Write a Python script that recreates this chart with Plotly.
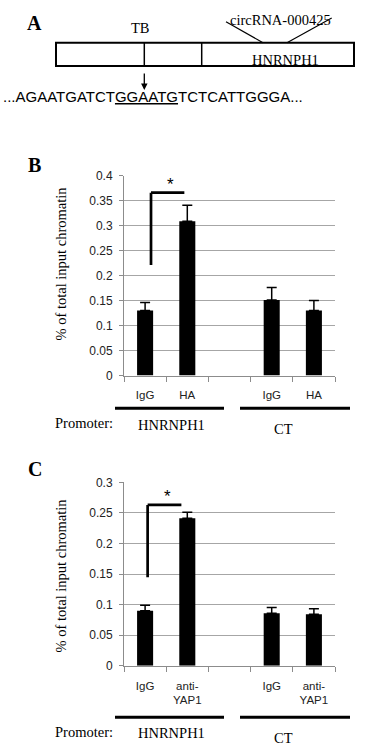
import plotly.graph_objects as go

# ---------------- data ----------------
cats_b = ["IgG", "HA", " ", "IgG\u200b", "HA\u200b"]
vals_b = [0.13, 0.309, None, 0.151, 0.13]
errs_b = [0.016, 0.032, None, 0.025, 0.02]

cats_c = ["IgG", "anti-<br>YAP1", " ", "IgG\u200b", "anti-<br>YAP1\u200b"]
vals_c = [0.09, 0.241, None, 0.086, 0.084]
errs_c = [0.009, 0.01, None, 0.009, 0.009]

yticks_b = [0, 0.05, 0.1, 0.15, 0.2, 0.25, 0.3, 0.35, 0.4]
yticks_c = [0, 0.05, 0.1, 0.15, 0.2, 0.25, 0.3]

promoters = ["HNRNPH1", "CT"]
sequence_left, sequence_site, sequence_right = "...AGAATGATCT", "GGAATG", "TCTCATTGGGA..."

# ---------------- helpers ----------------
W, H = 366, 746
def px(x):
    return x / W
def py(y):
    return 1 - y / H

SERIF = "Liberation Serif"
SANS = "Liberation Sans"
GRID = "#a6a6a6"
AXIS = "#8c8c8c"
SERIF_SIZE = 14.5

fig = go.Figure()

def add_panel(cats, vals, errs, xa, ya):
    fig.add_trace(go.Bar(
        x=cats, y=vals, xaxis=xa, yaxis=ya,
        marker=dict(color="black", line=dict(width=0)),
        width=0.38,
        error_y=dict(type="data", symmetric=False, array=errs,
                     arrayminus=[0] * len(errs), color="black",
                     thickness=1.5, width=5),
        showlegend=False, hoverinfo="skip",
    ))

add_panel(cats_b, vals_b, errs_b, "x", "y")
add_panel(cats_c, vals_c, errs_c, "x2", "y2")

xdom = [px(124), px(335)]
xcommon = dict(
    domain=xdom, type="category", categoryorder="array",
    range=[-0.5, 4.5], tickson="boundaries", ticks="outside", ticklen=5,
    tickcolor=AXIS, showline=True, linecolor=AXIS, linewidth=1,
    showgrid=False, zeroline=False, fixedrange=True,
    tickfont=dict(family=SANS, size=11.5, color="#222"), ticklabelstandoff=9,
)
ycommon = dict(
    dtick=0.05, tick0=0, ticks="outside", ticklen=4, tickcolor=AXIS,
    showline=True, linecolor=AXIS, linewidth=1, showgrid=True,
    gridcolor=GRID, gridwidth=1, zeroline=False, fixedrange=True,
    tickfont=dict(family=SANS, size=12, color="#222"), ticklabelstandoff=4,
)

fig.update_layout(
    width=W, height=H, autosize=False,
    margin=dict(l=0, r=0, t=0, b=0, autoexpand=False),
    paper_bgcolor="white", plot_bgcolor="white",
    xaxis=dict(xcommon, anchor="y", categoryarray=cats_b),
    yaxis=dict(ycommon, anchor="x", domain=[py(375.5), py(175.7)],
               range=[0, max(yticks_b)], tickvals=yticks_b),
    xaxis2=dict(xcommon, anchor="y2", categoryarray=cats_c),
    yaxis2=dict(ycommon, anchor="x2", domain=[py(665.7), py(482.3)],
                range=[0, max(yticks_c)], tickvals=yticks_c),
)

shapes = []
ann = []

def text(x, y, s, size=SERIF_SIZE, family=SERIF, xanchor="center", bold=False, angle=0):
    ann.append(dict(xref="paper", yref="paper", x=px(x), y=py(y), text=(f"<b>{s}</b>" if bold else s),
                    showarrow=False, xanchor=xanchor, yanchor="middle", textangle=angle,
                    font=dict(family=family, size=size, color="black")))

def pline(x0, y0, x1, y1, w=1.5):
    shapes.append(dict(type="line", xref="paper", yref="paper", x0=px(x0), y0=py(y0),
                       x1=px(x1), y1=py(y1), line=dict(color="black", width=w)))

# ---------- panel A ----------
text(34.5, 23, "A", size=20, bold=True)
shapes.append(dict(type="rect", xref="paper", yref="paper", x0=px(56), x1=px(354),
                   y0=py(66), y1=py(42.7), line=dict(color="black", width=2)))
pline(144.3, 42.7, 144.3, 66)
pline(201.7, 42.7, 201.7, 66)
text(140, 28, "TB")
text(280, 20, "circRNA-000425")
pline(226, 21.7, 263, 42.7, 1.2)
pline(331.7, 18, 287, 42.7, 1.2)
text(285, 60, "HNRNPH1")
ann.append(dict(xref="paper", yref="paper", x=px(144.3), y=py(90), ax=0, ay=-18,
                text="", showarrow=True, arrowhead=2, arrowsize=1, arrowwidth=1.3,
                arrowcolor="black"))
text(1, 97, f"{sequence_left}<u>{sequence_site}</u>{sequence_right}", size=15,
     family=SANS, xanchor="left")

# ---------- panels B and C ----------
def panel_decor(letter, ly, title_y, xa, ya, br, star, line_y, prom_y, ct_y):
    text(34.5, ly, letter, size=20, bold=True)
    text(60.5, title_y, "% of total input chromatin", angle=-90)
    bx0, by0, bx1, by1 = br
    for (a, b, c, d) in [(bx0, by0, bx0, by1), (bx0, by1, bx1, by1)]:
        shapes.append(dict(type="line", xref=xa, yref=ya, x0=a, y0=b, x1=c, y1=d,
                           line=dict(color="black", width=2.7)))
    ann.append(dict(xref=xa, yref=ya, x=star[0], y=star[1], text="*", showarrow=False,
                    font=dict(family=SANS, size=17, color="black")))
    pline(115, line_y, 224, line_y, 3)
    pline(240, line_y, 350, line_y, 3)
    text(115, prom_y, "Promoter:", xanchor="right")
    text(171, prom_y + 1.5, promoters[0])
    text(283, ct_y, promoters[1])

panel_decor("B", 165, 263, "x", "y", (0.14, 0.221, 0.93, 0.366), (0.61, 0.382),
            408.3, 423.3, 429)
panel_decor("C", 469, 575, "x2", "y2", (0.06, 0.1445, 0.86, 0.263), (0.52, 0.276),
            717.3, 731.7, 738)

fig.update_layout(shapes=shapes, annotations=ann)

fig.write_html("out.html", config={"displayModeBar": False, "staticPlot": True},
               post_script="document.body.style.margin='0';document.body.style.overflow='hidden';")
